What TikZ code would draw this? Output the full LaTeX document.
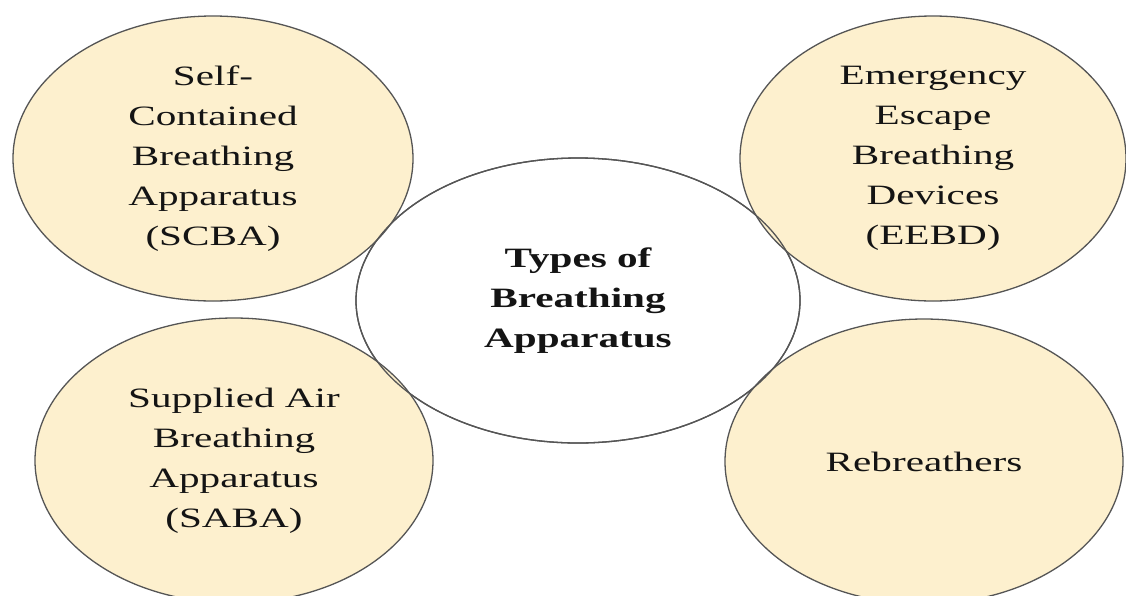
\documentclass[tikz,border=0pt]{standalone}
\usepackage{fontspec}
\setmainfont[FakeStretch=1.47]{Liberation Serif}
\usetikzlibrary{shapes.geometric}
\definecolor{beige}{HTML}{FDF0CE}
\definecolor{edgegray}{HTML}{555555}
\definecolor{ink}{HTML}{141414}
\begin{document}
\begin{tikzpicture}[x=1pt,y=-1pt,
  outline/.style={draw=edgegray, line width=1.3pt},
  bubble/.style={ellipse, outline, fill=beige, inner sep=0pt, align=center, text=ink,
    font=\fontsize{28}{40}\selectfont},
  hub/.style={bubble, fill=white, font=\fontsize{28}{40}\selectfont\bfseries}]
\useasboundingbox (0,0) rectangle (1126,595);
\clip (0,0) rectangle (1126,595);
\fill[white] (0,0) rectangle (1126,595);
\node[hub, minimum width=444pt, minimum height=285pt] (hub) at (578,300.5) {Types of\\Breathing\\Apparatus};
\node[bubble, minimum width=400pt, minimum height=285pt] (scba) at (213,158.5) {Self-\\Contained\\Breathing\\Apparatus\\(SCBA)};
\node[bubble, minimum width=398pt, minimum height=285pt] (saba) at (234,460.5) {Supplied Air\\Breathing\\Apparatus\\(SABA)};
\node[bubble, minimum width=386pt, minimum height=285pt] (eebd) at (933,158.5) {Emergency\\Escape\\Breathing\\Devices\\(EEBD)};
\node[bubble, minimum width=398pt, minimum height=285pt] (rebr) at (924,461.5) {Rebreathers};
\draw[outline] (hub.center) ellipse [x radius=222, y radius=142.5];
\end{tikzpicture}
\end{document}
